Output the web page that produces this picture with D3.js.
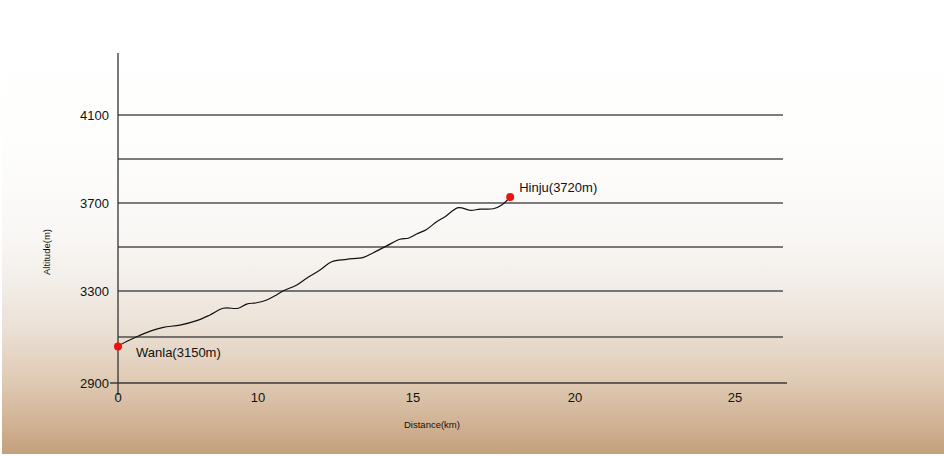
<!DOCTYPE html>
<html>
<head>
<meta charset="utf-8">
<script src="https://cdn.jsdelivr.net/npm/d3@7"></script>
<style>
  html, body { margin: 0; padding: 0; background: #ffffff; }
  svg { display: block; }
</style>
</head>
<body>
<svg id="chart" width="944" height="456"></svg>
<script>
// ---- data ----
const distanceKm = [0, 0.14, 1.34, 2.52, 3.24, 4.43, 5.62, 6.57, 7.52, 8.59, 9.19, 9.91, 10.28, 10.6, 10.82, 11.25, 11.57, 11.68, 12.0, 12.38, 12.86, 13.4, 13.72, 14.15, 14.58, 14.85, 15.11, 15.42, 15.73, 15.99, 16.4, 16.76, 17.07, 17.48, 17.74, 18.0];
const altitudeM = [3059, 3065, 3101, 3130, 3142, 3152, 3171, 3196, 3225, 3225, 3243, 3249, 3261, 3283, 3301, 3327, 3358, 3368, 3395, 3433, 3444, 3453, 3474, 3505, 3535, 3540, 3559, 3580, 3615, 3638, 3679, 3667, 3672, 3674, 3691, 3726];
const xTicks = [0, 10, 15, 20, 25];
const yTicks = [2900, 3300, 3700, 4100];
const yGrid = [2900, 3100, 3300, 3500, 3700, 3900, 4100];
const placeNames = ["Wanla(3150m)", "Hinju(3720m)"];
const placeKm = [0, 18.0];
const placeAlt = [3059, 3727];
const xTitle = "Distance(km)";
const yTitle = "Altitude(m)";

// ---- layout ----
const svg = d3.select("#chart");
const W = 944, H = 456;

const defs = svg.append("defs");
const grad = defs.append("linearGradient")
  .attr("id", "bg").attr("x1", 0).attr("y1", 0).attr("x2", 0).attr("y2", 1);
[[0, "#ffffff"], [0.3, "#fefefd"], [0.5, "#faf8f6"], [0.62, "#f3eee9"], [0.72, "#ebe1d6"],
 [0.84, "#dfcab4"], [0.93, "#d1b395"], [1, "#c4a07c"]]
  .forEach(([o, c]) => grad.append("stop").attr("offset", o).attr("stop-color", c));

svg.append("rect").attr("x", 0).attr("y", 0).attr("width", W).attr("height", H).attr("fill", "#ffffff");
svg.append("rect").attr("x", 2).attr("y", 0).attr("width", W - 2).attr("height", H - 2).attr("fill", "url(#bg)");

// piecewise scale reproduces the uneven tick spacing of the original axis
const x = d3.scaleLinear().domain([0, 10, 15, 20, 25]).range([118, 258, 413, 575, 735]);
const y = d3.scaleLinear().domain([2900, 3300, 4100]).range([383, 291, 115]);

const font = "'Liberation Sans', Arial, Helvetica, sans-serif";
const gridEnd = x(26.5);

// grid lines
svg.append("g").selectAll("line").data(yGrid).join("line")
  .attr("x1", d => d === 2900 ? 110 : x(0))
  .attr("x2", d => d === 2900 ? gridEnd + 4 : gridEnd)
  .attr("y1", d => y(d)).attr("y2", d => y(d))
  .attr("stroke", d => d === 2900 ? "#222" : "#333")
  .attr("stroke-width", d => d === 2900 ? 1.4 : 1.3)
  .attr("stroke-opacity", 0.85);

// y axis line
svg.append("line")
  .attr("x1", x(0)).attr("x2", x(0))
  .attr("y1", y(4100) - 62).attr("y2", y(2900) + 12)
  .attr("stroke", "#333").attr("stroke-width", 1.3);

// y tick labels
svg.append("g").selectAll("text").data(yTicks).join("text")
  .attr("x", 109).attr("y", d => y(d))
  .attr("dy", "0.35em")
  .attr("text-anchor", "end")
  .attr("font-family", font).attr("font-size", 13)
  .attr("fill", "#111")
  .text(d => d);

// x tick labels
svg.append("g").selectAll("text").data(xTicks).join("text")
  .attr("x", d => x(d)).attr("y", 402)
  .attr("text-anchor", "middle")
  .attr("font-family", font).attr("font-size", 13)
  .attr("fill", "#111")
  .text(d => d);

// axis titles
svg.append("text")
  .attr("x", 404).attr("y", 428)
  .attr("font-family", font).attr("font-size", 9.5)
  .attr("fill", "#111")
  .text(xTitle);

svg.append("text")
  .attr("transform", `translate(50,${252}) rotate(-90)`)
  .attr("text-anchor", "middle")
  .attr("font-family", font).attr("font-size", 9.5)
  .attr("fill", "#111")
  .text(yTitle);

// profile line
const pts = distanceKm.map((d, i) => [d, altitudeM[i]]);
const line = d3.line().x(d => x(d[0])).y(d => y(d[1])).curve(d3.curveCatmullRom.alpha(0.5));
svg.append("path")
  .attr("d", line(pts))
  .attr("fill", "none")
  .attr("stroke", "#111")
  .attr("stroke-width", 1.2);

// places
svg.append("g").selectAll("circle").data(placeKm).join("circle")
  .attr("cx", d => x(d)).attr("cy", (d, i) => y(placeAlt[i]))
  .attr("r", 4)
  .attr("fill", "#ee1111");

const labelOffsets = [[18, 6], [9, -10]];
svg.append("g").selectAll("text").data(placeNames).join("text")
  .attr("x", (d, i) => x(placeKm[i]) + labelOffsets[i][0])
  .attr("y", (d, i) => y(placeAlt[i]) + labelOffsets[i][1])
  .attr("dy", "0.35em")
  .attr("font-family", font).attr("font-size", 13)
  .attr("fill", "#111")
  .text(d => d);
</script>
</body>
</html>
